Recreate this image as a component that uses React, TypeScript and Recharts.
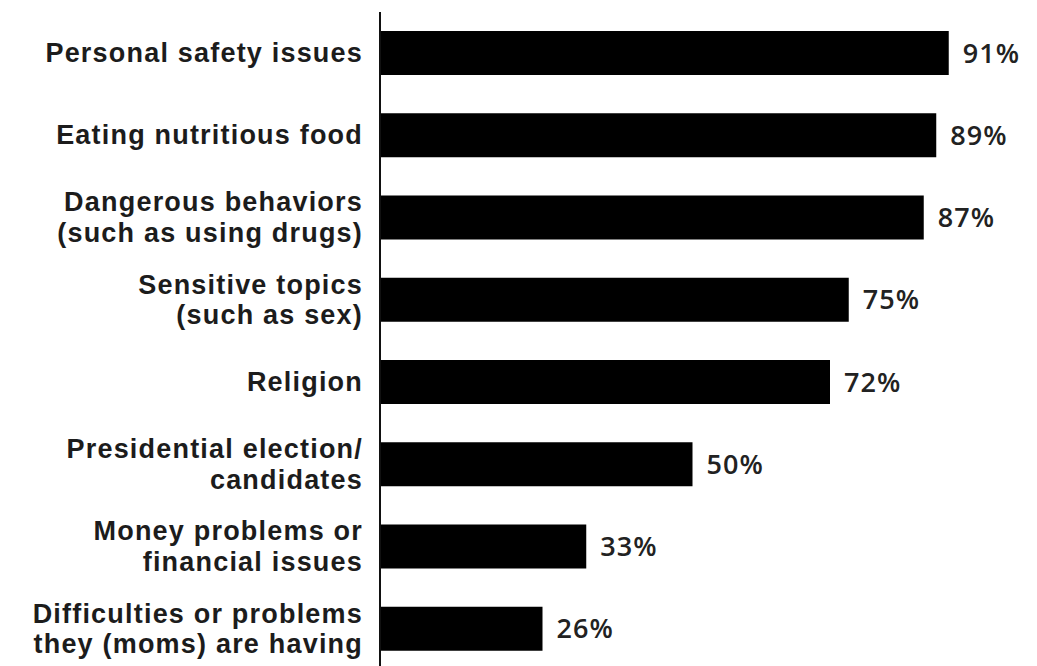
import { BarChart, Bar, XAxis, YAxis, LabelList } from 'recharts'

const TOPICS = [
  'Personal safety issues',
  'Eating nutritious food',
  'Dangerous behaviors\n(such as using drugs)',
  'Sensitive topics\n(such as sex)',
  'Religion',
  'Presidential election/\ncandidates',
  'Money problems or\nfinancial issues',
  'Difficulties or problems\nthey (moms) are having',
]
const PERCENTS = [91, 89, 87, 75, 72, 50, 33, 26]

const data = TOPICS.map((topic, i) => ({ topic, value: PERCENTS[i] }))

const LABEL_FONT = '"Liberation Sans Narrow", "Liberation Sans", sans-serif'
const VALUE_FONT = '"Open Sans", "DejaVu Sans", sans-serif'

interface TickProps {
  x?: number
  y?: number
  payload?: { value: string }
}

function TopicTick({ x = 0, y = 0, payload }: TickProps) {
  const lines = (payload?.value ?? '').split('\n')
  const lineH = 30.5
  const startY = y - ((lines.length - 1) * lineH) / 2
  return (
    <text
      x={x}
      y={startY}
      textAnchor="end"
      fill="#1c1c1c"
      fontFamily={LABEL_FONT}
      fontWeight={700}
      fontSize={27}
      letterSpacing={1.2}
      dominantBaseline="central"
    >
      {lines.map((l, i) => (
        <tspan key={i} x={x} dy={i === 0 ? 0 : lineH}>
          {l}
        </tspan>
      ))}
    </text>
  )
}

export default function App() {
  return (
    <div style={{ width: 1029, height: 662, background: '#fff' }}>
      <BarChart
        width={1029}
        height={662}
        data={data}
        layout="vertical"
        barSize={44}
        margin={{ top: 4, right: 32, bottom: 0, left: 0 }}
      >
        <XAxis type="number" domain={[0, 100]} hide />
        <YAxis
          type="category"
          dataKey="topic"
          width={372}
          axisLine={{ stroke: '#111', strokeWidth: 2 }}
          tickLine={false}
          tickSize={0}
          tickMargin={17}
          interval={0}
          tick={<TopicTick />}
        />
        <Bar dataKey="value" fill="#000" isAnimationActive={false}>
          <LabelList
            dataKey="value"
            position="right"
            offset={14}
            formatter={(v: number) => `${v}%`}
            fill="#222"
            fontFamily={VALUE_FONT}
            fontWeight={600}
            fontSize={27}
            letterSpacing={1}
          />
        </Bar>
      </BarChart>
    </div>
  )
}
